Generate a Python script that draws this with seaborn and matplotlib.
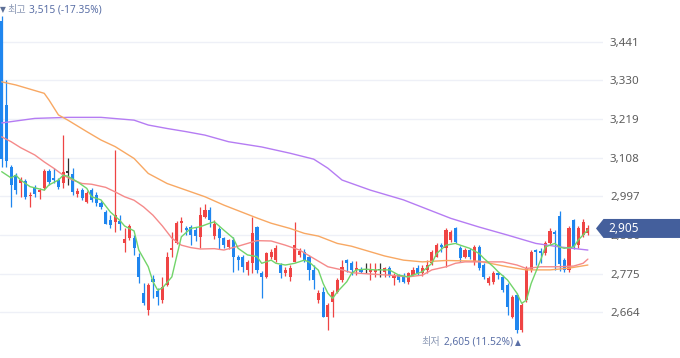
import numpy as np
import pandas as pd
import matplotlib
matplotlib.use("Agg")
import matplotlib.pyplot as plt
import seaborn as sns
from matplotlib.patches import Polygon

# ---------------- data ----------------
opens = [3500, 3259, 3082, 3058, 3035, 3041, 2998, 3020, 3010, 3020,
         3070, 3050, 3045, 3035, 3067, 3060, 3003, 3015, 2982, 3015,
         3000, 2977, 2952, 2930, 2924, 2925, 2862, 2878, 2878, 2822,
         2720, 2671, 2760, 2726, 2700, 2742, 2843, 2864, 2921, 2905,
         2908, 2901, 2880, 2938, 2958, 2883, 2904, 2877, 2851, 2872,
         2823, 2822, 2786, 2806, 2909, 2778, 2766, 2822, 2815, 2800,
         2778, 2766, 2808, 2830, 2836, 2822, 2786, 2700, 2722, 2650,
         2693, 2722, 2757, 2815, 2806, 2786, 2790, 2786, 2780, 2780,
         2786, 2780, 2792, 2762, 2771, 2765, 2750, 2771, 2792, 2777,
         2786, 2806, 2822, 2857, 2850, 2872, 2906, 2849, 2823, 2843,
         2808, 2851, 2800, 2748, 2751, 2777, 2765, 2742, 2650, 2714,
         2613, 2700, 2786, 2843, 2840, 2835, 2864, 2895, 2941, 2815,
         2786, 2929, 2857, 2886, 2892]
highs = [3515, 3330, 3088, 3065, 3052, 3046, 3010, 3030, 3020, 3075,
         3075, 3078, 3050, 3172, 3107, 3080, 3022, 3020, 3012, 3020,
         3010, 2985, 2958, 2945, 3130, 2944, 2905, 2918, 2885, 2835,
         2748, 2748, 2772, 2734, 2765, 2836, 2895, 2926, 2937, 2913,
         2915, 2910, 2967, 2975, 2968, 2930, 2908, 2880, 2875, 2880,
         2828, 2830, 2815, 2937, 2912, 2782, 2838, 2845, 2858, 2805,
         2795, 2800, 2923, 2848, 2845, 2830, 2800, 2728, 2737, 2690,
         2728, 2763, 2815, 2818, 2812, 2812, 2795, 2806, 2806, 2806,
         2806, 2795, 2796, 2777, 2775, 2777, 2780, 2794, 2800, 2800,
         2815, 2843, 2862, 2862, 2906, 2900, 2910, 2854, 2849, 2849,
         2857, 2857, 2806, 2768, 2783, 2780, 2771, 2748, 2714, 2720,
         2690, 2797, 2843, 2846, 2848, 2868, 2905, 2900, 2955, 2820,
         2912, 2932, 2912, 2932, 2915]
lows = [3082, 3082, 2967, 3005, 2995, 2990, 2968, 2995, 2990, 3015,
        3030, 3036, 3018, 3020, 3030, 3000, 2995, 2988, 2978, 2982,
        2970, 2962, 2917, 2905, 2895, 2900, 2836, 2872, 2830, 2748,
        2685, 2657, 2705, 2685, 2692, 2740, 2823, 2860, 2895, 2886,
        2857, 2870, 2850, 2935, 2910, 2875, 2845, 2848, 2845, 2780,
        2786, 2780, 2772, 2778, 2777, 2705, 2762, 2818, 2810, 2763,
        2768, 2755, 2808, 2822, 2810, 2758, 2730, 2690, 2650, 2613,
        2650, 2720, 2750, 2780, 2772, 2772, 2776, 2776, 2757, 2766,
        2766, 2766, 2766, 2742, 2751, 2747, 2745, 2770, 2771, 2768,
        2777, 2800, 2822, 2837, 2794, 2866, 2862, 2808, 2820, 2818,
        2800, 2786, 2760, 2742, 2745, 2760, 2722, 2656, 2647, 2605,
        2608, 2694, 2780, 2800, 2805, 2830, 2860, 2786, 2783, 2780,
        2780, 2845, 2850, 2880, 2885]
closes = [3105, 3100, 3030, 3015, 3044, 2995, 3002, 3005, 3016, 3070,
          3038, 3044, 3023, 3067, 3067, 3010, 3012, 2992, 3006, 2987,
          2978, 2966, 2917, 2915, 2944, 2918, 2876, 2912, 2850, 2765,
          2690, 2742, 2750, 2708, 2737, 2822, 2848, 2921, 2927, 2900,
          2886, 2884, 2944, 2958, 2930, 2918, 2877, 2857, 2871, 2823,
          2815, 2794, 2809, 2891, 2786, 2766, 2835, 2836, 2849, 2778,
          2786, 2792, 2857, 2840, 2814, 2786, 2757, 2720, 2650, 2685,
          2722, 2757, 2793, 2806, 2786, 2792, 2780, 2786, 2786, 2786,
          2786, 2792, 2771, 2771, 2757, 2750, 2777, 2786, 2777, 2792,
          2800, 2837, 2857, 2852, 2900, 2895, 2866, 2820, 2843, 2823,
          2851, 2791, 2765, 2762, 2777, 2771, 2729, 2679, 2708, 2613,
          2685, 2792, 2837, 2838, 2835, 2864, 2898, 2889, 2803, 2786,
          2906, 2851, 2906, 2924, 2905]

ma5_idx = [0, 2, 3, 4, 6, 9, 10, 12, 13, 14, 16, 18, 19, 21, 23, 25, 26, 28, 29, 31,
           32, 33, 34, 36, 37, 38, 40, 42, 44, 45, 47, 49, 50, 52, 54, 55, 57, 58, 60, 62,
           64, 65, 67, 68, 69, 70, 71, 73, 74, 75, 77, 79, 82, 84, 86, 87, 89, 91, 92, 94,
           96, 97, 99, 101, 102, 104, 105, 107, 109, 110, 111, 112, 114, 115, 117, 118, 119, 121, 122, 124]
ma5_val = [3068, 3050, 3058, 3044, 3025, 3015, 3030, 3044, 3058, 3055, 3039, 3020, 2996, 2987, 2952, 2928, 2912, 2898, 2843, 2795,
           2752, 2728, 2734, 2766, 2824, 2881, 2905, 2910, 2920, 2924, 2900, 2877, 2848, 2829, 2824, 2805, 2814, 2805, 2800, 2805,
           2814, 2809, 2785, 2747, 2719, 2704, 2723, 2752, 2776, 2786, 2788, 2786, 2786, 2771, 2766, 2771, 2781, 2805, 2833, 2857,
           2862, 2857, 2848, 2833, 2819, 2795, 2781, 2757, 2719, 2690, 2699, 2747, 2814, 2852, 2862, 2852, 2848, 2852, 2872, 2901]

ma20_idx = [0, 2, 4, 7, 9, 11, 13, 15, 17, 19, 22, 24, 26, 28, 30, 32, 34, 36, 38, 40,
            42, 45, 47, 50, 54, 57, 60, 63, 66, 69, 72, 74, 78, 82, 86, 89, 91, 94, 96, 98,
            101, 106, 109, 111, 114, 118, 121, 123, 124]
ma20_val = [3168, 3154, 3137, 3116, 3096, 3078, 3058, 3044, 3034, 3032, 3023, 3010, 2996, 2986, 2967, 2943, 2912, 2877, 2857, 2850,
            2846, 2847, 2843, 2854, 2870, 2869, 2857, 2843, 2819, 2795, 2786, 2778, 2774, 2771, 2766, 2771, 2786, 2795, 2805, 2809,
            2809, 2809, 2800, 2790, 2795, 2795, 2797, 2805, 2817]

ma60_idx = [0, 3, 9, 10, 12, 14, 18, 21, 24, 28, 31, 35, 39, 43, 47, 54, 57, 61, 64, 67,
            71, 74, 78, 81, 85, 89, 94, 101, 107, 111, 116, 120, 124]
ma60_val = [3326, 3317, 3293, 3274, 3231, 3216, 3183, 3159, 3140, 3106, 3063, 3034, 3015, 2996, 2972, 2935, 2920, 2905, 2891, 2883,
            2862, 2854, 2838, 2826, 2814, 2809, 2813, 2811, 2795, 2786, 2786, 2791, 2800]

ma120_idx = [0, 7, 14, 21, 28, 31, 35, 39, 43, 48, 55, 61, 66, 69, 72, 78, 85, 95, 101, 107,
             113, 118, 124]
ma120_val = [3208, 3221, 3224, 3224, 3216, 3202, 3192, 3183, 3173, 3154, 3139, 3121, 3104, 3078, 3044, 3015, 2987, 2934, 2909, 2886,
             2862, 2852, 2843]

ytick_values = [2664, 2775, 2886, 2997, 3108, 3219, 3330, 3441]
high_prefix = "최고"
high_text = "3,515 (-17.35%)"
low_prefix = "최저"
low_text = "2,605 (11.52%)"
last_text = "2,905"
last_value = 2905

# ---------------- style ----------------
RED = "#ef4444"
BLUE = "#1f86ef"
DOJI = "#333333"
C_MA5 = "#72d46a"
C_MA20 = "#f58a8a"
C_MA60 = "#f8a863"
C_MA120 = "#b57cf3"
TAG = "#445f9c"
NOTE_GREY = "#8d9ab6"
NOTE_BLUE = "#5a6fa6"

sns.set_theme(style="white")
plt.rcParams['font.family'] = ['Noto Sans', 'Noto Sans CJK KR', 'DejaVu Sans']

W, H = 680, 358
fig = plt.figure(figsize=(W / 100, H / 100), dpi=100)
AX_W = 603
ax = fig.add_axes([0, 0, AX_W / W, 1])

df = pd.DataFrame(dict(i=np.arange(len(closes)), o=opens, h=highs, l=lows, c=closes))
col = np.where(df.c > df.o, RED, np.where(df.c < df.o, BLUE, DOJI))

ax.set_xlim(-0.36, 127.2)
ax.set_ylim(2533, 3561)
unit_per_px = (3561 - 2533) / H

# wicks and bodies
ax.vlines(df.i, df.l, df.h, colors=col, lw=0.9, zorder=2)
body_low = np.minimum(df.o, df.c)
body_h = np.abs(df.c - df.o)
min_h = 1.1 * unit_per_px
body_low = np.where(body_h < min_h, (df.o + df.c) / 2 - min_h / 2, body_low)
body_h = np.maximum(body_h, min_h)
ax.bar(df.i, body_h, bottom=body_low, width=0.66, color=col, linewidth=0, zorder=3)

# moving averages
for xs, ys, c in [(ma120_idx, ma120_val, C_MA120), (ma60_idx, ma60_val, C_MA60),
                  (ma20_idx, ma20_val, C_MA20), (ma5_idx, ma5_val, C_MA5)]:
    sns.lineplot(x=xs, y=ys, ax=ax, color=c, lw=1.0, sort=False, estimator=None, zorder=4)

# axes cosmetics
for s in ax.spines.values():
    s.set_visible(False)
ax.set_xticks([])
ax.set_yticks(ytick_values)
ax.set_yticklabels([f"{v:,}" for v in ytick_values])
ax.yaxis.tick_right()
ax.tick_params(axis='y', length=0, pad=5, labelsize=8.3, labelcolor="#5c5c5c")
ax.grid(axis='y', color="#eef0f7", lw=1.0)
ax.set_axisbelow(True)
ax.set_xlabel("")
ax.set_ylabel("")

# last price tag
yt = ax.get_yaxis_transform()
hh = 9.5 * unit_per_px
tip = 596 / AX_W
left = 603.5 / AX_W
right = 680 / AX_W
tag = Polygon([(tip, last_value), (left, last_value + hh), (right, last_value + hh),
               (right, last_value - hh), (left, last_value - hh)],
              closed=True, transform=yt, facecolor=TAG, edgecolor="none",
              clip_on=False, zorder=10)
ax.add_patch(tag)
ax.text(608 / AX_W, last_value, last_text, transform=yt, color="white",
        fontsize=8.5, va="center", ha="left", zorder=11, clip_on=False)

# high / low notes
def ftxt(x, y, s, **kw):
    fig.text(x / W, 1 - y / H, s, va="center", ha="left", **kw)

ftxt(0, 10, "▼", fontsize=5.5, color="#5d6f96", family=['DejaVu Sans'])
ftxt(7.3, 10, high_prefix, fontsize=7.3, color=NOTE_GREY, family=['Noto Sans CJK KR'])
ftxt(29.3, 10, high_text, fontsize=7.3, color=NOTE_BLUE, fontweight="bold")

ftxt(421.5, 342.5, low_prefix, fontsize=7.3, color=NOTE_GREY, family=['Noto Sans CJK KR'])
ftxt(443.5, 342.5, low_text, fontsize=7.3, color=NOTE_BLUE, fontweight="bold")
ftxt(514.5, 342.5, "▲", fontsize=5.5, color=NOTE_BLUE, family=['DejaVu Sans'])

fig.savefig("out.png", dpi=100)
